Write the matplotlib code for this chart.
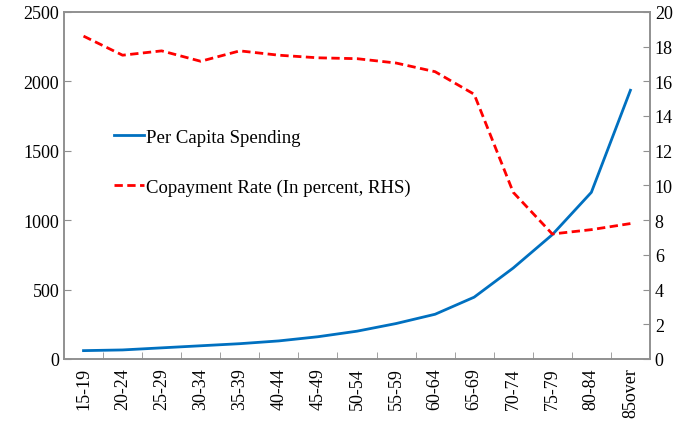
import matplotlib.pyplot as plt
import numpy as np

plt.rcParams['font.family'] = ['Liberation Serif', 'DejaVu Serif']

age_groups = ['15-19', '20-24', '25-29', '30-34', '35-39', '40-44', '45-49',
              '50-54', '55-59', '60-64', '65-69', '70-74', '75-79', '80-84', '85over']
spending = [60, 65, 80, 95, 110, 130, 160, 200, 255, 322, 445, 655, 895, 1200, 1935]
copay_rate = [18.6, 17.5, 17.75, 17.15, 17.75, 17.5, 17.35, 17.3, 17.05, 16.55,
              15.25, 9.6, 7.2, 7.45, 7.8]

fig = plt.figure(figsize=(6.91, 4.27), dpi=100)
ax = fig.add_axes([0.0926, 0.157, 0.848, 0.813])
ax2 = ax.twinx()

x = np.arange(len(age_groups))
l1, = ax.plot(x, spending, color='#0070C0', lw=2, label='Per Capita Spending')
l2, = ax2.plot(x, copay_rate, color='#FF0000', lw=2, ls=(0, (3, 1.6)),
               label='Copayment Rate (In percent, RHS)')

ax.set_xlim(-0.5, len(age_groups) - 0.5)
ax.set_ylim(0, 2500)
ax2.set_ylim(0, 20)
ax.set_yticks(np.arange(0, 2501, 500))
ax2.set_yticks(np.arange(0, 21, 2))

# labels at category centres, tick marks between categories
ax.set_xticks(x)
ax.set_xticklabels(age_groups, rotation=90)
ax.set_xticks(np.arange(0.5, len(age_groups) - 1, 1), minor=True)
ax.tick_params(axis='x', which='major', length=0, pad=6)
ax.tick_params(axis='x', which='minor', direction='in', length=5, color='#909090')

ax.tick_params(axis='y', direction='in', length=5, color='#909090', labelsize=13)
ax2.tick_params(axis='y', direction='in', length=5, color='#909090', labelsize=13)
ax.tick_params(axis='x', labelsize=13)

for a in (ax, ax2):
    for s in a.spines.values():
        s.set_color('#909090')
        s.set_linewidth(1.2)

ax.legend(handles=[l1, l2], loc='upper left', bbox_to_anchor=(0.07, 0.69),
          frameon=False, fontsize=13.5, handlelength=1.6, handletextpad=0.1,
          labelspacing=1.75, borderpad=0)

fig.savefig('out.png', dpi=100)
